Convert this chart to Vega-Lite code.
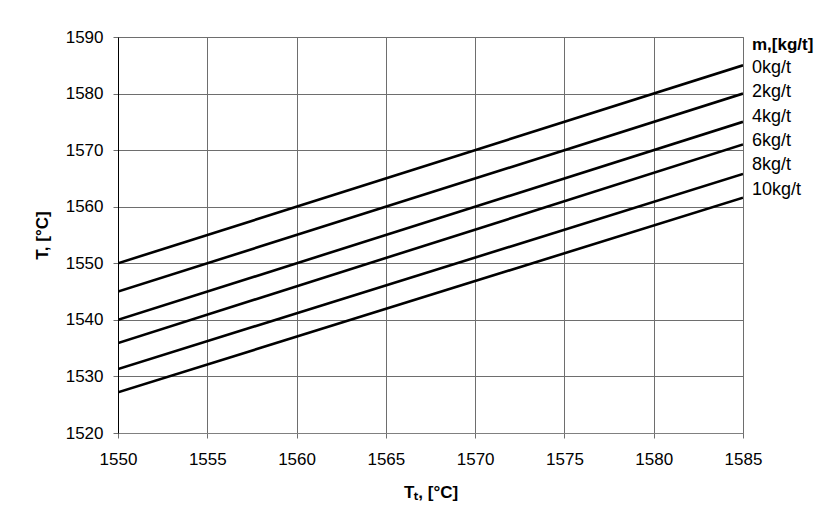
{
  "$schema": "https://vega.github.io/schema/vega-lite/v6.json",
  "width": 625,
  "height": 396,
  "autosize": {"type": "none"},
  "padding": {"left": 118, "top": 37, "right": 76, "bottom": 94},
  "background": "white",
  "config": {
    "font": "Liberation Sans",
    "view": {"stroke": "#808080", "strokeWidth": 1},
    "axis": {"gridColor": "#6e6e6e", "gridWidth": 1, "gridOpacity": 1, "tickColor": "#6e6e6e", "tickSize": 5, "labelFont": "Liberation Sans", "labelFontSize": 17, "labelColor": "black", "labelFlush": false, "titleFont": "Liberation Sans", "titleFontSize": 17, "titleFontWeight": "bold", "titleColor": "black"}
  },
  "data": {
    "values": [
      {"m": "0kg/t", "Tt": 1550, "T": 1550}, {"m": "0kg/t", "Tt": 1585, "T": 1585},
      {"m": "2kg/t", "Tt": 1550, "T": 1545}, {"m": "2kg/t", "Tt": 1585, "T": 1580},
      {"m": "4kg/t", "Tt": 1550, "T": 1540}, {"m": "4kg/t", "Tt": 1585, "T": 1575},
      {"m": "6kg/t", "Tt": 1550, "T": 1535.9}, {"m": "6kg/t", "Tt": 1585, "T": 1571},
      {"m": "8kg/t", "Tt": 1550, "T": 1531.3}, {"m": "8kg/t", "Tt": 1585, "T": 1565.8},
      {"m": "10kg/t", "Tt": 1550, "T": 1527.2}, {"m": "10kg/t", "Tt": 1585, "T": 1561.6}
    ]
  },
  "mark": {"type": "line", "strokeWidth": 2.6, "clip": true},
  "encoding": {
    "x": {"field": "Tt", "type": "quantitative", "title": "Tₜ, [°C]",
      "scale": {"domain": [1550, 1585], "nice": false, "zero": false},
      "axis": {"values": [1550, 1555, 1560, 1565, 1570, 1575, 1580, 1585], "format": "d", "labelPadding": 13, "titlePadding": 17, "domainColor": "#808080"}},
    "y": {"field": "T", "type": "quantitative", "title": "T, [°C]",
      "scale": {"domain": [1520, 1590], "nice": false, "zero": false},
      "axis": {"values": [1520, 1530, 1540, 1550, 1560, 1570, 1580, 1590], "format": "d", "labelPadding": 10, "titlePadding": 14, "domainColor": "black"}},
    "color": {"field": "m", "type": "nominal",
      "sort": ["0kg/t", "2kg/t", "4kg/t", "6kg/t", "8kg/t", "10kg/t"],
      "scale": {"range": ["black"]},
      "legend": {"title": "m,[kg/t]", "orient": "right", "offset": 9, "padding": 0, "symbolOpacity": 0, "symbolSize": 0, "symbolStrokeWidth": 0, "labelOffset": -18, "labelFont": "Liberation Sans", "labelFontSize": 18, "labelColor": "black", "titleFont": "Liberation Sans", "titleFontSize": 17, "titleFontWeight": "bold", "titleColor": "black", "titlePadding": 5, "rowPadding": 6.3}
    }
  }
}
